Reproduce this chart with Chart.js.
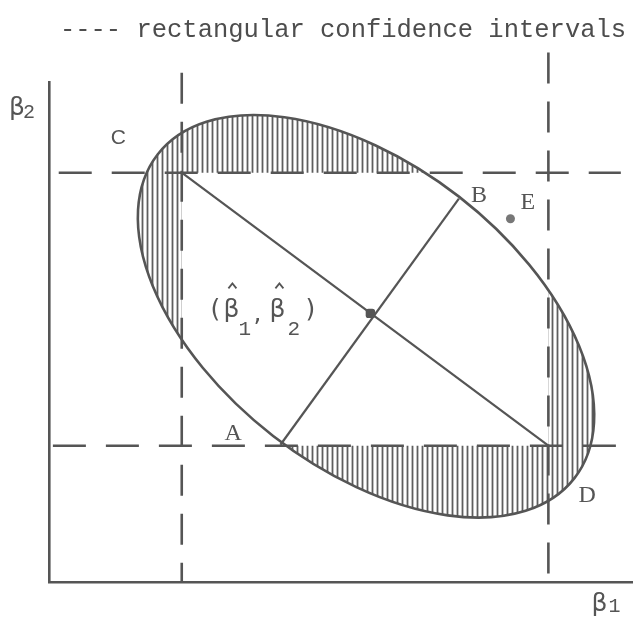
<!DOCTYPE html>
<html>
<head>
<meta charset="utf-8">
<script src="https://cdn.jsdelivr.net/npm/chart.js@4.4.1/dist/chart.umd.min.js"></script>
<style>
  html, body { margin: 0; padding: 0; background: #ffffff; }
  #wrap { width: 638px; height: 625px; }
</style>
</head>
<body>
<div id="wrap"><canvas id="chart" width="638" height="625"></canvas></div>
<script>
// Individual (rectangular) confidence limits
const beta1Limits = [2.73, 10.27];
const beta2Limits = [2.78, 8.35];

// Point estimate (beta1-hat, beta2-hat)
const estimate = [6.61, 5.48];

// Joint confidence ellipse: centre, semi-axes and tilt of the major axis (degrees)
const ellipseCenter = [6.52, 5.42];
const ellipseSemiAxes = [5.41, 3.10];
const ellipseTilt = -37.6;

// Labelled points
const pointNames = ['A', 'B', 'C', 'D', 'E'];
const pointX = [4.76, 8.43, 2.73, 10.27, 9.49];
const pointY = [2.80, 7.82, 8.35, 2.78, 7.41];

// Reach of the dashed interval lines
const verticalSpans = [[10.39, 0], [10.80, 0]];   // y from, y to
const horizontalSpans = [[0.20, 11.76], [0.08, 12.02]]; // x from, x to (for beta2 upper, lower)

const INK = '#555555';
const HATCH = '#5e5e5e';

function pt(name) {
  const i = pointNames.indexOf(name);
  return { x: pointX[i], y: pointY[i] };
}

const datasets = [];

// dashed vertical lines at the beta1 limits
beta1Limits.forEach((b, i) => {
  datasets.push({
    data: [{ x: b, y: verticalSpans[i][0] }, { x: b, y: verticalSpans[i][1] }],
    showLine: true, borderColor: INK, borderWidth: 2.6, borderDash: [31, 18],
    pointRadius: 0, clip: false, borderCapStyle: 'butt'
  });
});

// dashed horizontal lines at the beta2 limits
[beta2Limits[1], beta2Limits[0]].forEach((b, i) => {
  datasets.push({
    data: [{ x: horizontalSpans[i][0], y: b }, { x: horizontalSpans[i][1], y: b }],
    showLine: true, borderColor: INK, borderWidth: 2.6, borderDash: [33, 20],
    pointRadius: 0, clip: false, borderCapStyle: 'butt'
  });
});

// diagonal of the rectangle, C to D
datasets.push({
  data: [pt('C'), pt('D')],
  showLine: true, borderColor: INK, borderWidth: 2.2, pointRadius: 0, clip: false
});

// minor axis of the ellipse, A to B
datasets.push({
  data: [pt('A'), pt('B')],
  showLine: true, borderColor: INK, borderWidth: 2.2, pointRadius: 0, clip: false
});

// the estimate
datasets.push({
  data: [{ x: estimate[0], y: estimate[1] }],
  pointRadius: 5.5, pointStyle: 'rectRounded', backgroundColor: INK, borderColor: INK, borderWidth: 0
});

// point E outside the ellipse
datasets.push({
  data: [pt('E')],
  pointRadius: 4.5, backgroundColor: '#777777', borderColor: '#777777', borderWidth: 0
});

function ellipsePixels(chart) {
  const xs = chart.scales.x, ys = chart.scales.y;
  const t = ellipseTilt * Math.PI / 180;
  const cx = xs.getPixelForValue(ellipseCenter[0]);
  const cy = ys.getPixelForValue(ellipseCenter[1]);
  const ux = xs.getPixelForValue(ellipseCenter[0] + ellipseSemiAxes[0] * Math.cos(t)) - cx;
  const uy = ys.getPixelForValue(ellipseCenter[1] + ellipseSemiAxes[0] * Math.sin(t)) - cy;
  const vx = xs.getPixelForValue(ellipseCenter[0] - ellipseSemiAxes[1] * Math.sin(t)) - cx;
  const vy = ys.getPixelForValue(ellipseCenter[1] + ellipseSemiAxes[1] * Math.cos(t)) - cy;
  return { cx, cy, a: Math.hypot(ux, uy), b: Math.hypot(vx, vy), rot: Math.atan2(uy, ux) };
}

// Hatched region: inside the ellipse but outside the rectangle; then the ellipse outline
const ellipsePlugin = {
  id: 'ellipse',
  beforeDatasetsDraw(chart) {
    const { ctx, scales: { x: xs, y: ys } } = chart;
    const e = ellipsePixels(chart);
    const rx0 = xs.getPixelForValue(beta1Limits[0]);
    const rx1 = xs.getPixelForValue(beta1Limits[1]);
    const ry0 = ys.getPixelForValue(beta2Limits[1]);
    const ry1 = ys.getPixelForValue(beta2Limits[0]);

    ctx.save();
    ctx.beginPath();
    ctx.ellipse(e.cx, e.cy, e.a, e.b, e.rot, 0, Math.PI * 2);
    ctx.clip();
    ctx.beginPath();
    ctx.rect(0, 0, chart.width, chart.height);
    ctx.rect(rx0, ry0, rx1 - rx0, ry1 - ry0);
    ctx.clip('evenodd');
    ctx.strokeStyle = HATCH;
    ctx.lineWidth = 1.8;
    ctx.beginPath();
    for (let px = Math.floor(e.cx - e.a) + 0.5; px <= e.cx + e.a; px += 5) {
      ctx.moveTo(px, e.cy - e.a);
      ctx.lineTo(px, e.cy + e.a);
    }
    ctx.stroke();
    ctx.restore();

    ctx.save();
    ctx.strokeStyle = INK;
    ctx.lineWidth = 2.6;
    ctx.beginPath();
    ctx.ellipse(e.cx, e.cy, e.a, e.b, e.rot, 0, Math.PI * 2);
    ctx.stroke();
    ctx.restore();
  }
};

// Letter offsets from their points, in pixels
const letterStyle = {
  A: { dx: -56, dy: -5, font: '24px "Liberation Serif"' },
  B: { dx: 12, dy: 3, font: '24px "Liberation Serif"' },
  C: { dx: -71, dy: -29, font: '21px "Liberation Sans"' },
  D: { dx: 30, dy: 56, font: '24px "Liberation Serif"' },
  E: { dx: 10, dy: -10, font: '24px "Liberation Serif"' }
};

function hat(ctx, x, y) {
  ctx.beginPath();
  ctx.moveTo(x - 4, y + 5);
  ctx.lineTo(x, y);
  ctx.lineTo(x + 4, y + 5);
  ctx.stroke();
}

const labelPlugin = {
  id: 'labels',
  afterDatasetsDraw(chart) {
    const { ctx, chartArea: ca, scales: { x: xs, y: ys } } = chart;
    ctx.save();
    ctx.fillStyle = INK;
    ctx.strokeStyle = INK;
    ctx.lineWidth = 1.8;
    ctx.textBaseline = 'alphabetic';
    ctx.textAlign = 'left';

    pointNames.forEach((n, i) => {
      const s = letterStyle[n];
      ctx.font = s.font;
      ctx.fillText(n, xs.getPixelForValue(pointX[i]) + s.dx, ys.getPixelForValue(pointY[i]) + s.dy);
    });

    // (beta1-hat, beta2-hat) next to the estimate
    const ex = xs.getPixelForValue(estimate[0]);
    const ey = ys.getPixelForValue(estimate[1]);
    const big = '25px "DejaVu Sans"';
    const sub = '21px "Liberation Mono"';
    ctx.font = big;
    ctx.fillText('(', ex - 160, ey + 4);
    ctx.fillText('\u03b2', ex - 147, ey + 4);
    ctx.fillText(',', ex - 117, ey + 8);
    ctx.fillText('\u03b2', ex - 101, ey + 4);
    ctx.fillText(')', ex - 65, ey + 4);
    ctx.font = sub;
    ctx.fillText('1', ex - 132, ey + 22);
    ctx.fillText('2', ex - 83, ey + 22);
    hat(ctx, ex - 138, ey - 30);
    hat(ctx, ex - 91, ey - 30);

    // axis names
    ctx.font = big;
    ctx.fillText('\u03b2', ca.left - 40, ca.top + 33);
    ctx.fillText('\u03b2', ca.right - 41, ca.bottom + 29);
    ctx.font = '20px "Liberation Mono"';
    ctx.fillText('2', ca.left - 26, ca.top + 36);
    ctx.fillText('1', ca.right - 24, ca.bottom + 30);
    ctx.restore();
  }
};

new Chart(document.getElementById('chart'), {
  type: 'scatter',
  data: { datasets },
  options: {
    responsive: false,
    animation: false,
    events: [],
    layout: { padding: { left: 49, right: 1, top: 0, bottom: 43 } },
    plugins: {
      legend: { display: false },
      tooltip: { enabled: false },
      title: {
        display: true,
        text: '---- rectangular confidence intervals',
        color: '#4d4d4d',
        font: { family: '"Liberation Mono"', size: 25.5, weight: 'normal' },
        padding: { top: 14.7, bottom: 36.7 }
      }
    },
    scales: {
      x: {
        type: 'linear', min: 0, max: 12,
        grid: { display: false, drawTicks: false },
        ticks: { display: false },
        border: { display: true, color: INK, width: 2.6 }
      },
      y: {
        type: 'linear', min: 0, max: 10.2,
        grid: { display: false, drawTicks: false },
        ticks: { display: false },
        border: { display: true, color: INK, width: 2.6 }
      }
    }
  },
  plugins: [ellipsePlugin, labelPlugin]
});
</script>
</body>
</html>
